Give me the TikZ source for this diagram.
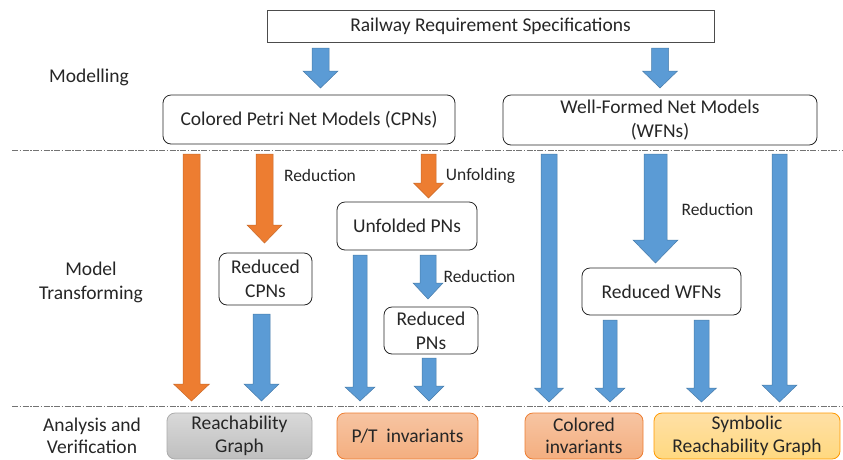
\documentclass[tikz,border=0pt]{standalone}
\usepackage{fontspec}
\setmainfont{Carlito}
\definecolor{myorange}{HTML}{ED7D31}
\definecolor{myblue}{HTML}{5B9BD5}
\definecolor{txt}{HTML}{262626}
\newcommand\BArrow[7]{\filldraw[#1] (#2-#6,#3) -- (#2+#6,#3) -- (#2+#6,#4) -- (#2+#7,#4) -- (#2,#5) -- (#2-#7,#4) -- (#2-#6,#4) -- cycle;}
\tikzset{
  boxtext/.style={text=txt, align=center, inner sep=0pt, font=\fontsize{19.5}{24}\selectfont},
  rbox/.style={boxtext, draw=black!85, line width=0.8pt, rounded corners=8pt},
  sbox/.style={boxtext, draw=black!70, line width=0.8pt},
  bbox/.style={text=txt, align=center, inner sep=0pt, font=\fontsize{19.5}{22.5}\selectfont, rounded corners=8pt, line width=0.8pt, minimum height=46},
  lbl/.style={text=txt, align=center, inner sep=0pt, font=\fontsize{17.5}{21}\selectfont},
  side/.style={text=txt, align=center, inner sep=0pt, font=\fontsize{19.5}{24}\selectfont},
  oarr/.style={fill=myorange, draw=myorange!85!black, line width=0.5pt},
  barr/.style={fill=myblue, draw=myblue!80!black, line width=0.5pt},
  sep/.style={draw=black!55, line width=0.8pt, dash pattern=on 6pt off 1.5pt on 1.5pt off 1.5pt},
}
\begin{document}
\begin{tikzpicture}[x=1pt,y=-1pt]
\useasboundingbox (0,0) rectangle (843,459);
\clip (0,0) rectangle (843,459);
% separators
\draw[sep] (12,150) -- (843,150);
\draw[sep] (12,406) -- (843,406);
% boxes
\node[sbox, minimum width=447, minimum height=32] (req) at (490.5,26) {Railway Requirement Specifications};
\node[rbox, minimum width=292, minimum height=49] (cpn) at (309,119.5) {Colored Petri Net Models (CPNs)};
\node[rbox, minimum width=314, minimum height=50] (wfn) at (660,120) {Well-Formed Net Models\\(WFNs)};
\node[rbox, minimum width=140, minimum height=48] (unf) at (407,226) {Unfolded PNs};
\node[rbox, minimum width=93, minimum height=52] (rcpn) at (265.5,279) {Reduced\\CPNs};
\node[rbox, minimum width=94, minimum height=47] (rpn) at (431,330.5) {Reduced\\PNs};
\node[rbox, minimum width=159, minimum height=47] (rwfn) at (661.5,291.5) {Reduced WFNs};
% bottom boxes
\node[bbox, draw=black!33, top color=black!15, bottom color=black!25, minimum width=145] (rg) at (239.5,436) {Reachability\\Graph};
\node[bbox, draw=myorange, top color=myorange!45, bottom color=myorange!62, minimum width=141] (pt) at (407.5,436) {P/T\ \ invariants};
\node[bbox, draw=myorange, top color=myorange!45, bottom color=myorange!62, minimum width=118] (ci) at (584,436) {Colored\\invariants};
\node[bbox, draw=orange!80!yellow, top color=yellow!30!orange!35, bottom color=yellow!40!orange!50, minimum width=186] (srg) at (747,436) {Symbolic\\Reachability Graph};
% side labels
\node[side] (l1) at (89,77) {Modelling};
\node[side] (l2) at (91,282) {Model\\Transforming};
\node[side, font=\fontsize{19.5}{22.5}\selectfont] (l3) at (92,436) {Analysis and\\Verification};
% arrow labels
\node[lbl] (t1) at (320,175) {Reduction};
\node[lbl] (t2) at (480.5,176) {Unfolding};
\node[lbl] (t3) at (479.5,276) {Reduction};
\node[lbl] (t4) at (717.5,209) {Reduction};
% arrows
\BArrow{barr}{320.5}{48}{71}{88}{8.5}{17.5}
\BArrow{barr}{660}{48}{71}{88}{8.5}{17.5}
\BArrow{oarr}{191.5}{154}{384}{401}{8.5}{18}
\BArrow{oarr}{264.5}{154}{225}{243}{8.5}{17.5}
\BArrow{oarr}{428.5}{154}{183}{198}{7.5}{15}
\BArrow{barr}{261.5}{314}{384}{401}{8.5}{17.5}
\BArrow{barr}{360}{255}{387}{401}{7}{15}
\BArrow{barr}{428}{255}{283}{299}{8}{15}
\BArrow{barr}{429}{358}{386}{401}{7}{15}
\BArrow{barr}{549}{154}{388}{402}{8}{14.5}
\BArrow{barr}{655.5}{154}{240}{263}{11.5}{22.5}
\BArrow{barr}{779.5}{154}{385}{402}{7.5}{17.5}
\BArrow{barr}{610}{320}{388}{402}{7}{15}
\BArrow{barr}{701.5}{320}{388}{402}{7.5}{15}
\end{tikzpicture}
\end{document}
